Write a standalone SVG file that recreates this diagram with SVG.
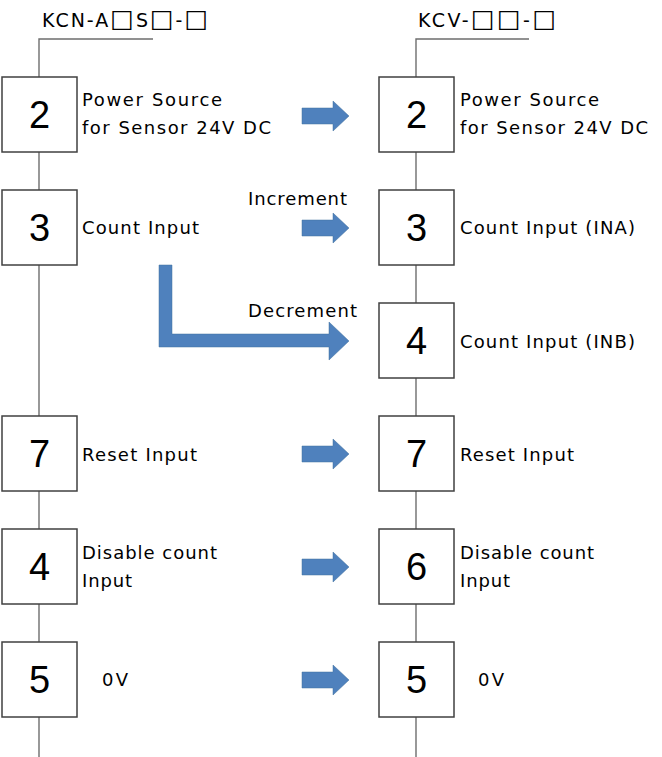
<svg xmlns="http://www.w3.org/2000/svg" width="662" height="757" viewBox="0 0 662 757">
<style>
text{font-family:"DejaVu Sans","Noto Sans CJK JP",sans-serif;fill:#000}
.lbl{font-size:18px}
.num{font-size:38px;text-anchor:middle;font-family:"Liberation Sans",sans-serif}
.ttl{font-size:19px;font-variant-emoji:text}
.sq{font-size:25px}
.box{fill:#fff;stroke:#404040;stroke-width:1.5}
.wire{fill:none;stroke:#6e6e6e;stroke-width:1.4}
.arr{fill:#4F81BD;stroke:#41719C;stroke-width:0.5}
</style>
<defs>
<path id="arrow" d="M0,-8 H31 V-15 L47,0 L31,15 V8 H0 Z"/>
</defs>
<g id="wires">
<polyline class="wire" points="153,39 39,39 39,757"/>
<polyline class="wire" points="529,39 416,39 416,757"/>
</g>
<g id="titles">
<text class="ttl" x="42" y="27" textLength="166" lengthAdjust="spacing">KCN-A<tspan class="sq">□</tspan>S<tspan class="sq">□</tspan>-<tspan class="sq">□</tspan></text>
<text class="ttl" x="418" y="27" textLength="138" lengthAdjust="spacing">KCV-<tspan class="sq">□□</tspan>-<tspan class="sq">□</tspan></text>
</g>
<g id="L2"><rect class="box" x="2" y="77" width="75" height="75"/><text class="num" x="39.5" y="128">2</text>
<text class="lbl" x="82" y="106" textLength="140">Power Source</text><text class="lbl" x="82" y="134" textLength="189">for Sensor 24V DC</text></g>
<g id="L3"><rect class="box" x="2" y="190" width="75" height="75"/><text class="num" x="39.5" y="241">3</text>
<text class="lbl" x="82" y="234" textLength="117">Count Input</text></g>
<g id="L7"><rect class="box" x="2" y="416" width="75" height="75"/><text class="num" x="39.5" y="467">7</text>
<text class="lbl" x="82" y="461" textLength="115">Reset Input</text></g>
<g id="L4"><rect class="box" x="2" y="529" width="75" height="75"/><text class="num" x="39.5" y="580">4</text>
<text class="lbl" x="82" y="559" textLength="135">Disable count</text><text class="lbl" x="82" y="587" textLength="50">Input</text></g>
<g id="L5"><rect class="box" x="2" y="642" width="75" height="75"/><text class="num" x="39.5" y="693">5</text>
<text class="lbl" x="102" y="686" textLength="26">0V</text></g>
<g id="R2"><rect class="box" x="379" y="77" width="75" height="75"/><text class="num" x="416.5" y="128">2</text>
<text class="lbl" x="460" y="106" textLength="139">Power Source</text><text class="lbl" x="460" y="134" textLength="188">for Sensor 24V DC</text></g>
<g id="R3"><rect class="box" x="379" y="190" width="75" height="75"/><text class="num" x="416.5" y="241">3</text>
<text class="lbl" x="460" y="234" textLength="175">Count Input (INA)</text></g>
<g id="R4"><rect class="box" x="379" y="303" width="75" height="75"/><text class="num" x="416.5" y="354">4</text>
<text class="lbl" x="460" y="348" textLength="175">Count Input (INB)</text></g>
<g id="R7"><rect class="box" x="379" y="416" width="75" height="75"/><text class="num" x="416.5" y="467">7</text>
<text class="lbl" x="460" y="461" textLength="114">Reset Input</text></g>
<g id="R6"><rect class="box" x="379" y="529" width="75" height="75"/><text class="num" x="416.5" y="580">6</text>
<text class="lbl" x="460" y="559" textLength="134">Disable count</text><text class="lbl" x="460" y="587" textLength="50">Input</text></g>
<g id="R5"><rect class="box" x="379" y="642" width="75" height="75"/><text class="num" x="416.5" y="693">5</text>
<text class="lbl" x="478" y="686" textLength="26">0V</text></g>
<g id="connectors">
<use href="#arrow" class="arr" transform="translate(302,116)"/>
<use href="#arrow" class="arr" transform="translate(302,228)"/>
<path class="arr" d="M159,265 H172 V334 H329 V322 L349,341 L329,360 V347 H159 Z"/>
<use href="#arrow" class="arr" transform="translate(302,454)"/>
<use href="#arrow" class="arr" transform="translate(302,567)"/>
<use href="#arrow" class="arr" transform="translate(302,680)"/>
<text class="lbl" x="248" y="205" textLength="99">Increment</text>
<text class="lbl" x="248" y="317" textLength="109">Decrement</text>
</g>
</svg>
